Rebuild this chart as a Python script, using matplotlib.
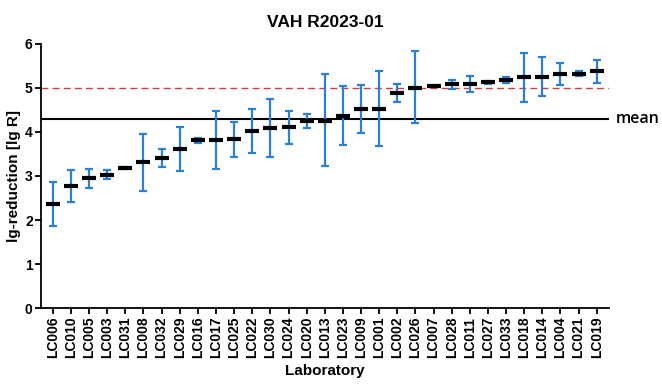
import matplotlib.pyplot as plt

# Lab results: mean lg-reduction with lower / upper error-bar ends
labs = ['LC006', 'LC010', 'LC005', 'LC003', 'LC031', 'LC008', 'LC032', 'LC029',
        'LC016', 'LC017', 'LC025', 'LC022', 'LC030', 'LC024', 'LC020', 'LC013',
        'LC023', 'LC009', 'LC001', 'LC002', 'LC026', 'LC007', 'LC028', 'LC011',
        'LC027', 'LC033', 'LC018', 'LC014', 'LC004', 'LC021', 'LC019']
means = [2.37, 2.78, 2.95, 3.03, 3.18, 3.31, 3.40, 3.61,
         3.81, 3.81, 3.83, 4.02, 4.09, 4.10, 4.25, 4.25,
         4.36, 4.51, 4.51, 4.88, 5.00, 5.03, 5.08, 5.09,
         5.12, 5.17, 5.24, 5.25, 5.30, 5.31, 5.37]
lower = [1.86, 2.41, 2.73, 2.92, 3.15, 2.66, 3.21, 3.12,
         3.74, 3.15, 3.43, 3.52, 3.43, 3.73, 4.09, 3.22,
         3.70, 3.98, 3.67, 4.67, 4.20, 5.01, 4.96, 4.91,
         5.09, 5.11, 4.68, 4.81, 5.06, 5.26, 5.11]
upper = [2.87, 3.13, 3.16, 3.14, 3.21, 3.95, 3.60, 4.10,
         3.86, 4.47, 4.22, 4.52, 4.74, 4.47, 4.41, 5.31,
         5.03, 5.06, 5.37, 5.09, 5.82, 5.05, 5.18, 5.26,
         5.15, 5.24, 5.78, 5.70, 5.55, 5.37, 5.63]
overall_mean = 4.28
limit = 5.0

plt.rcParams['font.family'] = ['Liberation Sans', 'DejaVu Sans']

fig = plt.figure(figsize=(6.62, 3.85), dpi=100)
ax = fig.add_axes([0.062, 0.199, 0.858, 0.688])

x = list(range(len(labs)))
err_lo = [m - l for m, l in zip(means, lower)]
err_hi = [u - m for m, u in zip(means, upper)]

ax.axhline(limit, color='#d63c3c', linestyle=(0, (5, 3)), linewidth=1.0, zorder=1)
ax.axhline(overall_mean, color='black', linewidth=1.5, zorder=1)

ax.errorbar(x, means, yerr=[err_lo, err_hi], fmt='none', ecolor='#2a80d8',
            elinewidth=1.6, capsize=3, capthick=1.6, zorder=2)
ax.plot(x, means, linestyle='none', marker='_', markersize=10.5,
        markeredgewidth=3, color='black', zorder=3)

ax.text(1.012, overall_mean, 'mean', transform=ax.get_yaxis_transform(),
        va='center', ha='left', fontsize=11.5, family='Open Sans',
        fontweight='semibold')

ax.set_xlim(-0.65, len(labs) - 0.32)
ax.set_ylim(0, 6)
ax.set_yticks([0, 1, 2, 3, 4, 5, 6])
ax.set_xticks(x)
ax.set_xticklabels(labs, rotation=90, fontsize=10, fontweight='bold')
for lbl in ax.get_yticklabels():
    lbl.set_fontweight('bold')
    lbl.set_fontsize(10)

ax.spines['top'].set_visible(False)
ax.spines['right'].set_visible(False)
ax.spines['left'].set_linewidth(1.3)
ax.spines['bottom'].set_linewidth(1.3)
ax.tick_params(width=1.3, length=4, pad=2)

ax.set_title('VAH R2023-01', fontsize=12.5, fontweight='bold', pad=12)
ax.set_xlabel('Laboratory', fontsize=11, fontweight='bold', labelpad=4)
ax.set_ylabel('lg-reduction [lg R]', fontsize=11, fontweight='bold', labelpad=3)

fig.savefig('out.png', dpi=100)
